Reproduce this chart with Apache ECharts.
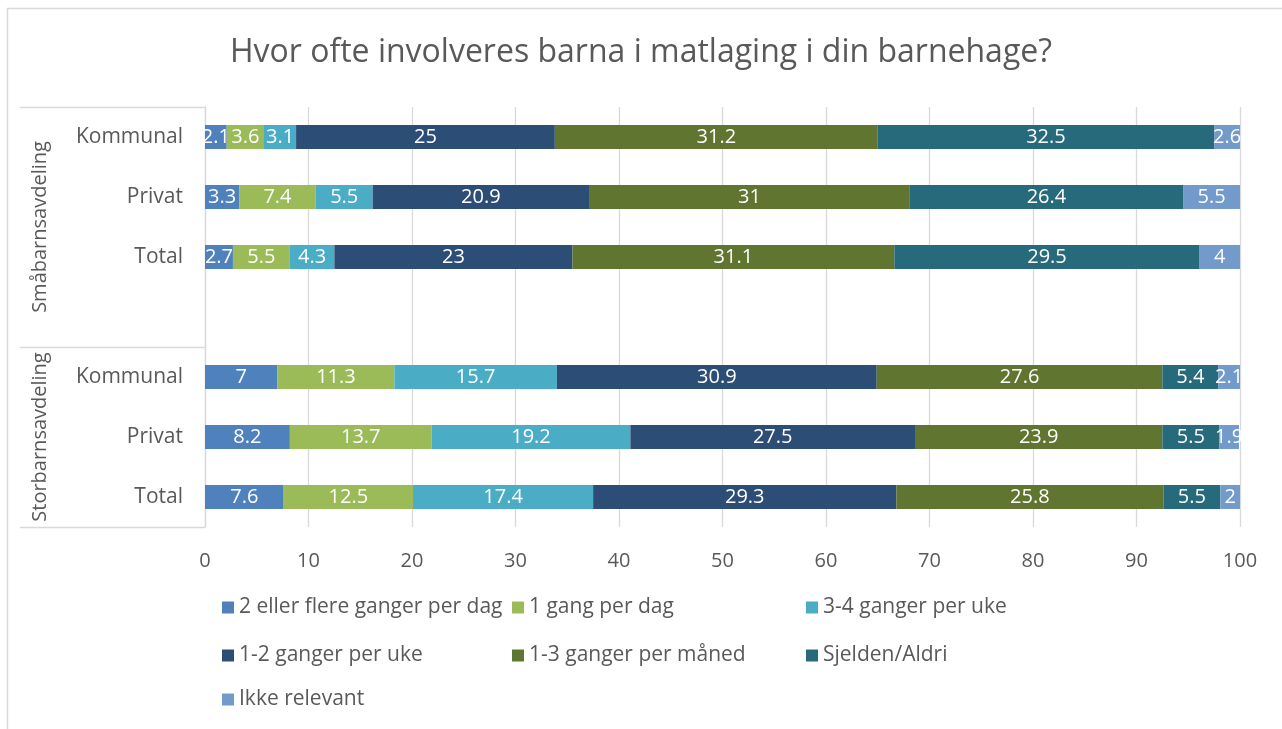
<!DOCTYPE html>
<html>
<head>
<meta charset="utf-8">
<title>Hvor ofte involveres barna i matlaging i din barnehage?</title>
<script src="https://cdn.jsdelivr.net/npm/echarts@6/dist/echarts.min.js"></script>
<style>
  html, body { margin: 0; padding: 0; background: #ffffff; }
  #chart { width: 1282px; height: 729px; }
</style>
</head>
<body>
<div id="chart"></div>
<script>
// Categories (top to bottom); the empty entry separates the two groups
const categories = ['Kommunal', 'Privat', 'Total', '', 'Kommunal', 'Privat', 'Total'];
// Group labels with the category index range [start, end) each one spans
const groups = ['Småbarnsavdeling', 'Storbarnsavdeling'];
const groupRanges = [[0, 4], [4, 7]];

const seriesNames = [
  '2 eller flere ganger per dag',
  '1 gang per dag',
  '3-4 ganger per uke',
  '1-2 ganger per uke',
  '1-3 ganger per måned',
  'Sjelden/Aldri',
  'Ikke relevant'
];

// Percentages per answer, one value per category row
const flereGangerDag = [2.1, 3.3, 2.7, null, 7, 8.2, 7.6];
const enGangDag      = [3.6, 7.4, 5.5, null, 11.3, 13.7, 12.5];
const treFireUke     = [3.1, 5.5, 4.3, null, 15.7, 19.2, 17.4];
const enToUke        = [25, 20.9, 23, null, 30.9, 27.5, 29.3];
const enTreMaaned    = [31.2, 31, 31.1, null, 27.6, 23.9, 25.8];
const sjeldenAldri   = [32.5, 26.4, 29.5, null, 5.4, 5.5, 5.5];
const ikkeRelevant   = [2.6, 5.5, 4, null, 2.1, 1.9, 2];

const seriesValues = [flereGangerDag, enGangDag, treFireUke, enToUke, enTreMaaned, sjeldenAldri, ikkeRelevant];

// Value axis ticks
const xMin = 0, xMax = 100, xStep = 10;

const palette = ['#4F81BD', '#9BBB59', '#4BACC6', '#2C4D75', '#5F7530', '#276A7C', '#729ACA'];
const textColor = '#595959';
const gridColor = '#D9D9D9';
const fontFamily = '"Open Sans", "Noto Sans", sans-serif';

// Legend layout: three columns, three rows
const legendCols = [217, 507, 801];
const legendRows = [592, 640, 684];
const legends = seriesNames.map(function (name, i) {
  return {
    data: [name],
    left: legendCols[i % 3],
    top: legendRows[Math.floor(i / 3)],
    icon: 'rect',
    itemWidth: 12,
    itemHeight: 12,
    selectedMode: false,
    textStyle: { color: textColor, fontSize: 21, fontFamily: fontFamily }
  };
});

const chart = echarts.init(document.getElementById('chart'), null, { renderer: 'canvas' });

const option = {
  animation: false,
  color: palette,
  textStyle: { fontFamily: fontFamily },
  title: {
    text: 'Hvor ofte involveres barna i matlaging i din barnehage?',
    left: 'center',
    top: 32,
    textStyle: { color: textColor, fontSize: 32, fontWeight: 'normal', fontFamily: fontFamily }
  },
  legend: legends,
  grid: { left: 205, right: 42, top: 107, bottom: 202, containLabel: false },
  xAxis: {
    type: 'value',
    min: xMin,
    max: xMax,
    interval: xStep,
    axisLine: { show: false },
    axisTick: { show: false },
    axisLabel: { color: textColor, fontSize: 20, margin: 24, fontFamily: fontFamily },
    splitLine: { show: true, lineStyle: { color: gridColor, width: 1.3 } }
  },
  yAxis: {
    type: 'category',
    inverse: true,
    data: categories,
    axisLine: { show: true, lineStyle: { color: gridColor, width: 1.3 } },
    axisTick: {
      show: true,
      length: 185,
      lineStyle: { color: gridColor, width: 1.3 },
      interval: function (index) {
        return groupRanges.some(function (r) { return r[0] === index; });
      }
    },
    axisLabel: { color: textColor, fontSize: 21, margin: 22, fontFamily: fontFamily },
    splitLine: { show: false }
  },
  series: seriesNames.map(function (name, i) {
    return {
      name: name,
      type: 'bar',
      stack: 'total',
      barWidth: 24,
      data: seriesValues[i],
      itemStyle: { color: palette[i] },
      label: {
        show: true,
        position: 'inside',
        color: '#ffffff',
        fontSize: 20,
        fontFamily: fontFamily,
        formatter: function (p) { return p.value == null ? '' : String(p.value); }
      }
    };
  })
};

chart.setOption(option);

// Group labels and chart frame, positioned through the category axis
function groupGraphics() {
  const items = groups.map(function (g, i) {
    const r = groupRanges[i];
    const yStart = chart.convertToPixel({ yAxisIndex: 0 }, r[0]);
    const yEnd = chart.convertToPixel({ yAxisIndex: 0 }, r[1] - 1);
    return {
      type: 'text',
      x: 40,
      y: (yStart + yEnd) / 2,
      rotation: Math.PI / 2,
      style: {
        text: g,
        fill: textColor,
        fontSize: 20,
        fontFamily: fontFamily,
        align: 'center',
        verticalAlign: 'middle'
      }
    };
  });
  items.push({
    type: 'rect',
    shape: { x: 7.5, y: 8.5, width: 1400, height: 800 },
    style: { fill: 'none', stroke: gridColor, lineWidth: 1.5 },
    silent: true
  });
  return items;
}

chart.setOption({ graphic: groupGraphics() });
</script>
</body>
</html>
